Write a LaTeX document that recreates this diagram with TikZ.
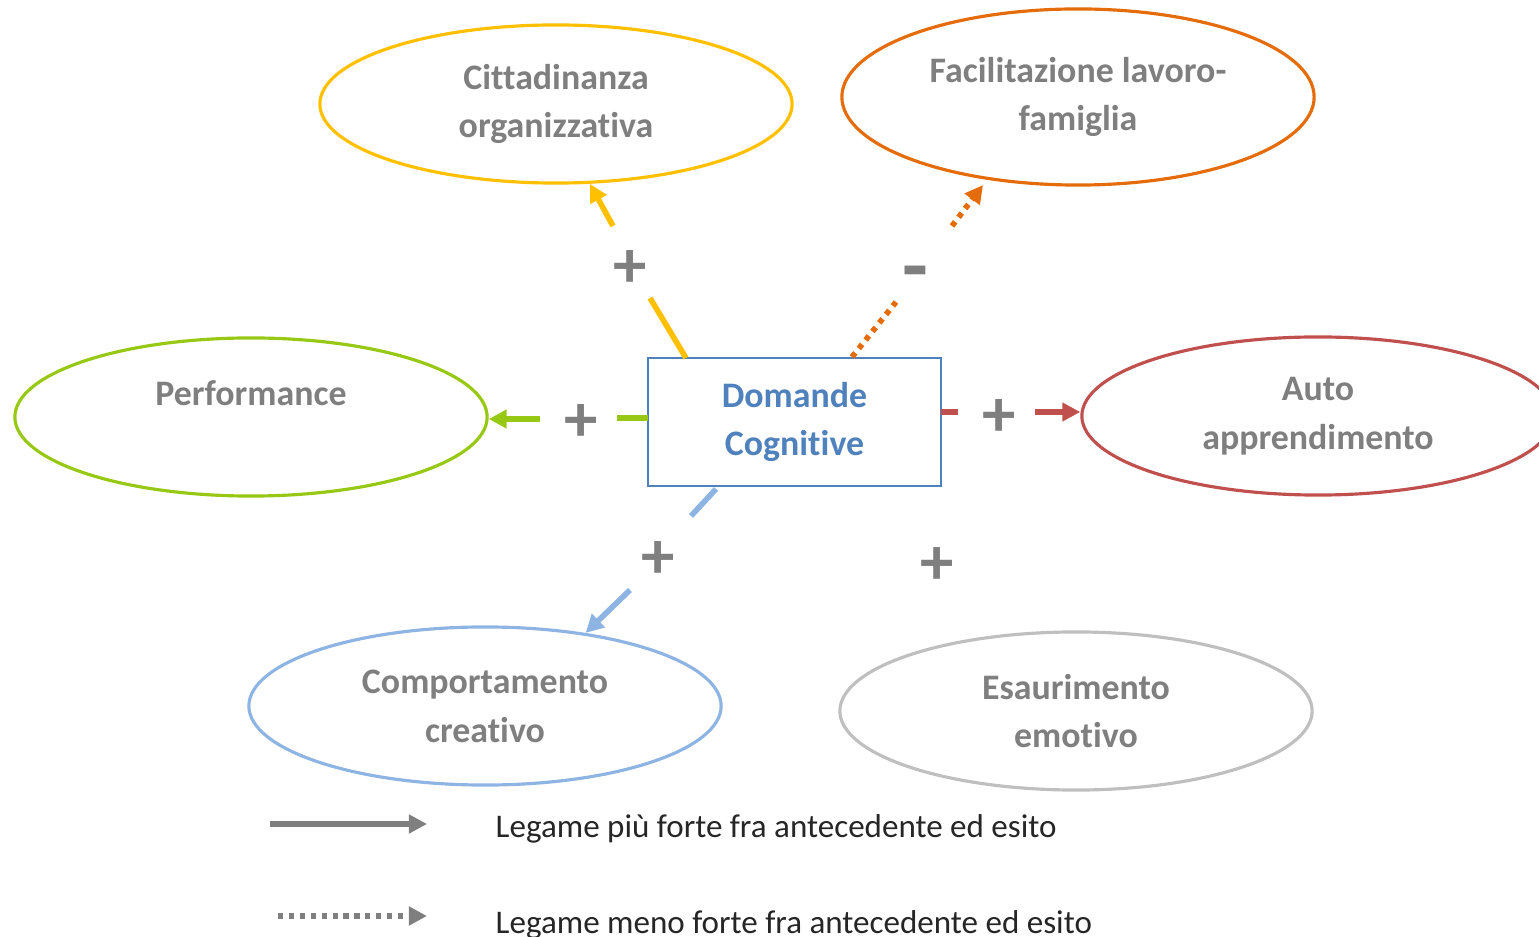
\documentclass[tikz,border=0pt]{standalone}
\usepackage{fontspec}
\setmainfont{Carlito}[RawFeature={-liga;-calt}]
\usetikzlibrary{shapes.geometric,arrows.meta,positioning}
\definecolor{giallo}{RGB}{255,192,0}
\definecolor{arancio}{RGB}{228,108,10}
\definecolor{verde}{RGB}{150,200,20}
\definecolor{rosso}{RGB}{192,80,77}
\definecolor{azzurro}{RGB}{142,180,227}
\definecolor{grigiochiaro}{RGB}{191,191,191}
\definecolor{blu}{RGB}{79,129,189}
\definecolor{grigio}{RGB}{127,127,127}

\begin{document}
\begin{tikzpicture}[x=0.01cm,y=-0.01cm,
  esito/.style={draw,ellipse,line width=0.9pt,minimum width=4.72cm,minimum height=1.58cm,
    inner sep=0pt,align=center,text=grigio,font=\fontsize{10.2}{13.9}\selectfont\bfseries},
  tratto/.style={line width=1.6pt},
  legame/.style={line width=1.6pt,-{Triangle[length=0.18cm,width=0.18cm]}},
  debole/.style={dash pattern=on 1.5pt off 1.6pt},
  segno/.style={text=grigio,inner sep=0pt,font=\fontsize{19}{19}\selectfont\bfseries},
  voce/.style={anchor=base west,inner sep=0pt,text=black!85,font=\fontsize{9.4}{11}\selectfont}]
\useasboundingbox (0,0) rectangle (1539,937);
\clip (0,0) rectangle (1539,937);

% antecedente
\node[draw=blu,line width=0.6pt,minimum width=2.93cm,minimum height=1.28cm,align=center,
  text=blu,font=\fontsize{10.2}{13.9}\selectfont\bfseries] (dc) at (794.5,422) {Domande\\Cognitive};

% esiti
\node[esito,draw=giallo] (cit) at (556,104) {Cittadinanza\\organizzativa};
\node[esito,draw=arancio,minimum height=1.76cm] (fam) at (1078,97) {Facilitazione lavoro-\\famiglia};
\node[esito,draw=verde] (perf) at (251,417) {Performance\\\mbox{}};
\node[esito,draw=rosso] (auto) at (1318,416) {Auto\\apprendimento};
\node[esito,draw=azzurro] (crea) at (485,706) {Comportamento\\creativo};
\node[esito,draw=grigiochiaro] (esau) at (1076,711) {Esaurimento\\emotivo};

% segni
\node[segno] (sC) at (630,269) {+};
\node[segno,font=\fontsize{24}{24}\selectfont\bfseries] (sF) at (915,280) {-};
\node[segno] (sP) at (581,423) {+};
\node[segno] (sA) at (999,418) {+};
\node[segno] (sR) at (658,560) {+};
\node[segno] (sE) at (937,566) {+};

% legami
\coordinate (c1) at (686,358); \coordinate (c2) at (650,298); \coordinate (c3) at (613,226);
\draw[tratto,giallo] (c1) -- (c2);
\draw[legame,giallo] (c3) -- (cit.-67);

\coordinate (f1) at (852,357); \coordinate (f2) at (896,302); \coordinate (f3) at (952,226);
\draw[tratto,debole,arancio] (f1) -- (f2);
\draw[legame,debole,arancio] (f3) -- (983,185);

\coordinate (p1) at (648,418); \coordinate (p2) at (617,418); \coordinate (p3) at (540,419);
\draw[tratto,verde] (p1) -- (p2);
\draw[legame,verde] (p3) -- (perf.east |- p3);

\coordinate (a1) at (941,412); \coordinate (a2) at (958,412); \coordinate (a3) at (1035,412);
\draw[tratto,rosso] (a1) -- (a2);
\draw[legame,rosso] (a3) -- (auto.west |- a3);

\coordinate (r1) at (716,489); \coordinate (r2) at (691,516); \coordinate (r3) at (630,590);
\draw[tratto,azzurro] (r1) -- (r2);
\draw[legame,azzurro] (r3) -- (crea.36);

% legenda
\node[voce] (forte) at (495,837) {Legame più forte fra antecedente ed esito};
\node[voce] (meno) at (495,933) {Legame meno forte fra antecedente ed esito};
\coordinate (l1) at (270,824); \coordinate (l2) at (427,824);
\coordinate (l3) at (278,916); \coordinate (l4) at (427,916);
\draw[legame,grigio,line width=1.5pt] (l1) -- (l2);
\draw[legame,debole,grigio,line width=1.5pt] (l3) -- (l4);
\end{tikzpicture}
\end{document}
